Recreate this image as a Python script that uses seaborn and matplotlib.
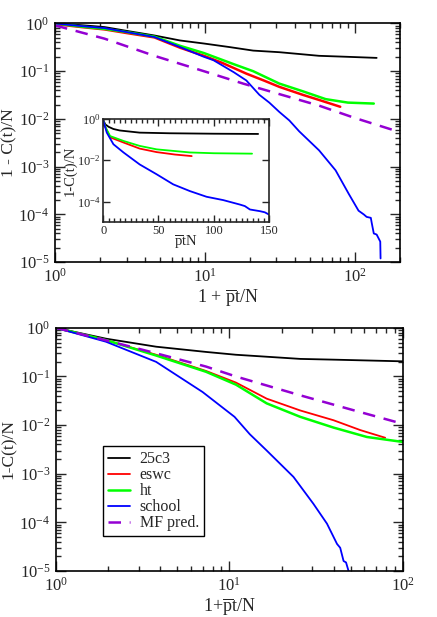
import numpy as np
import matplotlib
matplotlib.use("Agg")
import matplotlib.pyplot as plt
import matplotlib.ticker as mticker
import seaborn as sns

sns.set_style("ticks")
plt.rcParams['font.family'] = ['Liberation Serif', 'DejaVu Serif']
plt.rcParams['mathtext.fontset'] = 'custom'
plt.rcParams['mathtext.rm'] = 'Liberation Serif'
plt.rcParams['mathtext.it'] = 'Liberation Serif:italic'
plt.rcParams['mathtext.bf'] = 'Liberation Serif:bold'

# colours (xmgrace style)
c_black = '#000000'
c_red = '#ff0000'
c_green = '#00ff00'
c_blue = '#0000ff'
c_violet = '#9400d3'

# ---- top panel, main plot (x = 1 + pt/N) ----
top_25c3_x = [1, 1.5, 2.14, 3, 4.6, 6.83, 9.85, 14.6, 21, 31.4, 57.8, 90, 140]
top_25c3_y = [1.0, 0.92, 0.84, 0.70, 0.56, 0.44, 0.38, 0.32, 0.27, 0.25, 0.21, 0.20, 0.19]

top_eswc_x = [1, 1.5, 2.14, 3, 4.6, 6.83, 9.85, 13, 18.9, 25, 31.4, 45, 57.8, 80]
top_eswc_y = [0.97, 0.84, 0.75, 0.63, 0.51, 0.31, 0.21, 0.15, 0.089, 0.063, 0.047, 0.032, 0.025, 0.018]

top_ht_x = [1, 1.5, 2.14, 3, 4.6, 6.83, 9.85, 15.6, 21, 31.4, 45, 64, 90, 134]
top_ht_y = [1.0, 0.86, 0.77, 0.66, 0.53, 0.34, 0.24, 0.14, 0.10, 0.055, 0.038, 0.026, 0.022, 0.021]

top_school_x = [1, 1.5, 2.14, 3, 4.6, 6.83, 9.85, 11.4, 15.6, 18.9, 23.1, 26.9, 31.4, 36.6,
                42.6, 57.8, 74.5, 91.2, 106, 115, 120, 128, 130, 134, 140, 144, 148, 148.7]
top_school_y = [1.0, 0.88, 0.80, 0.66, 0.52, 0.32, 0.20, 0.17, 0.095, 0.064, 0.032, 0.022,
                0.014, 0.0093, 0.0055, 0.0022, 8.4e-4, 2.7e-4, 1.2e-4, 1.0e-4, 8.9e-5, 8.5e-5,
                6.5e-5, 4.0e-5, 3.8e-5, 3.2e-5, 2.7e-5, 1.2e-5]

top_mf_x = [1, 2.14, 4.6, 9.85, 18, 57.8, 100, 200]
top_mf_y = [0.91, 0.48, 0.21, 0.10, 0.055, 0.019, 0.0105, 0.0053]

# ---- inset (linear x = pt/N) ----
ins_25c3_x = [0, 2, 5, 9.3, 15, 33, 60, 100, 140]
ins_25c3_y = [0.9, 0.55, 0.42, 0.33, 0.28, 0.22, 0.205, 0.195, 0.19]

ins_eswc_x = [0, 2, 6.3, 18.4, 33, 48.3, 65, 80]
ins_eswc_y = [0.9, 0.4, 0.13, 0.073, 0.037, 0.025, 0.019, 0.016]

ins_ht_x = [0, 2, 6.3, 18.4, 33, 48.3, 78.4, 100, 134.5]
ins_ht_y = [0.9, 0.42, 0.15, 0.087, 0.05, 0.034, 0.024, 0.022, 0.021]

ins_school_x = [0, 3.3, 9.3, 18.4, 33, 48.3, 63.3, 78.4, 93.4, 108.5, 123.6, 128, 132.6, 141.6, 146, 150]
ins_school_y = [0.9, 0.22, 0.06, 0.024, 0.0063, 0.0021, 6.8e-4, 3.2e-4, 1.7e-4, 1.17e-4,
                7.1e-5, 6.0e-5, 4.1e-5, 3.4e-5, 3.0e-5, 2.3e-5]

# ---- bottom panel (x = 1 + pt/N) ----
bot_25c3_x = [1, 1.94, 3.78, 7.33, 10.9, 16.4, 25.6, 39.8, 100]
bot_25c3_y = [1.0, 0.60, 0.41, 0.32, 0.28, 0.255, 0.23, 0.222, 0.205]

bot_eswc_x = [1, 1.94, 3.78, 7.33, 10.9, 16.4, 25.6, 39.8, 56.8, 79]
bot_eswc_y = [1.0, 0.56, 0.28, 0.13, 0.075, 0.035, 0.020, 0.0126, 0.0079, 0.0055]

bot_ht_x = [1, 1.94, 3.78, 7.33, 10.9, 16.4, 25.6, 39.8, 62, 100]
bot_ht_y = [1.0, 0.56, 0.27, 0.125, 0.068, 0.028, 0.0148, 0.0089, 0.0057, 0.0045]

bot_school_x = [1, 1.94, 3.78, 7.0, 10.7, 13.1, 16.4, 23.4, 30.5, 36.5, 41.7, 43.5, 45.5, 47, 48.6]
bot_school_y = [1.0, 0.52, 0.20, 0.048, 0.0148, 0.0065, 0.003, 8.6e-4, 2.4e-4, 9.4e-5,
                3.6e-5, 3.0e-5, 1.6e-5, 1.5e-5, 1.0e-5]

bot_mf_x = [1, 2, 3.78, 7.33, 10.9, 25.6, 50, 100]
bot_mf_y = [1.0, 0.54, 0.30, 0.16, 0.10, 0.041, 0.021, 0.0106]

labels = ['25c3', 'eswc', 'ht', 'school', 'MF pred.']
lw = 1.3

fig = plt.figure(figsize=(4.37, 6.17), dpi=100)
ax1 = fig.add_axes([0.126, 0.575, 0.789, 0.387])
ax2 = fig.add_axes([0.128, 0.0746, 0.794, 0.394])
axin = fig.add_axes([0.236, 0.640, 0.380, 0.167])


def style_log(ax, fs=12):
    ax.set_xscale('log')
    ax.set_yscale('log')
    ax.xaxis.set_major_locator(mticker.LogLocator(base=10))
    ax.xaxis.set_minor_locator(mticker.LogLocator(base=10, subs=np.arange(2, 10)))
    ax.yaxis.set_major_locator(mticker.LogLocator(base=10))
    ax.yaxis.set_minor_locator(mticker.LogLocator(base=10, subs=np.arange(2, 10)))
    ax.xaxis.set_minor_formatter(mticker.NullFormatter())
    ax.yaxis.set_minor_formatter(mticker.NullFormatter())
    ax.tick_params(which='both', direction='in', top=True, right=True, labelsize=fs, width=1)
    ax.tick_params(which='major', length=7, pad=4)
    ax.tick_params(which='minor', length=3.5)
    for s in ax.spines.values():
        s.set_linewidth(1.2)
        s.set_color('black')


# top main
sns.lineplot(x=top_25c3_x, y=top_25c3_y, ax=ax1, color=c_black, lw=lw)
sns.lineplot(x=top_eswc_x, y=top_eswc_y, ax=ax1, color=c_red, lw=lw + 0.5)
sns.lineplot(x=top_ht_x, y=top_ht_y, ax=ax1, color=c_green, lw=lw + 0.5)
sns.lineplot(x=top_school_x, y=top_school_y, ax=ax1, color=c_blue, lw=lw, sort=False)
ax1.plot(top_mf_x, top_mf_y, color=c_violet, lw=lw + 0.5, ls=(0, (5, 3.5)))
style_log(ax1)
ax1.set_xlim(1, 200)
ax1.set_ylim(1e-5, 1)
ax1.set_xlabel(r'1 + $\overline{\mathrm{p}}$t/N', fontsize=13, labelpad=1)
ax1.set_ylabel('1 - C(t)/N', fontsize=12.5)
ax1.yaxis.set_label_coords(-0.11, 0.5)

# inset
sns.lineplot(x=ins_25c3_x, y=ins_25c3_y, ax=axin, color=c_black, lw=lw)
sns.lineplot(x=ins_eswc_x, y=ins_eswc_y, ax=axin, color=c_red, lw=lw)
sns.lineplot(x=ins_ht_x, y=ins_ht_y, ax=axin, color=c_green, lw=lw)
sns.lineplot(x=ins_school_x, y=ins_school_y, ax=axin, color=c_blue, lw=lw)
axin.set_yscale('log')
axin.set_xlim(0, 150)
axin.set_ylim(1e-5, 1)
axin.xaxis.set_major_locator(mticker.MultipleLocator(50))
axin.xaxis.set_minor_locator(mticker.MultipleLocator(5))
axin.yaxis.set_major_locator(mticker.LogLocator(base=100))
axin.yaxis.set_minor_locator(mticker.LogLocator(base=10, subs=np.arange(1, 10)))
axin.yaxis.set_minor_formatter(mticker.NullFormatter())
axin.tick_params(which='both', direction='in', top=True, right=True, labelsize=9, width=1)
axin.tick_params(which='major', length=5, pad=2)
axin.tick_params(which='minor', length=3)
for s in axin.spines.values():
    s.set_linewidth(1.2)
axin.set_xlabel(r'$\overline{\mathrm{p}}$tN', fontsize=10.5, labelpad=-2)
axin.set_ylabel('1-C(t)/N', fontsize=10.5)
axin.yaxis.set_label_coords(-0.16, 0.5)

# bottom
sns.lineplot(x=bot_25c3_x, y=bot_25c3_y, ax=ax2, color=c_black, lw=lw, label=labels[0])
sns.lineplot(x=bot_eswc_x, y=bot_eswc_y, ax=ax2, color=c_red, lw=lw, label=labels[1])
sns.lineplot(x=bot_ht_x, y=bot_ht_y, ax=ax2, color=c_green, lw=lw + 0.5, label=labels[2])
sns.lineplot(x=bot_school_x, y=bot_school_y, ax=ax2, color=c_blue, lw=lw, label=labels[3])
ax2.plot(bot_mf_x, bot_mf_y, color=c_violet, lw=lw + 0.5, ls=(0, (5, 3.5)), label=labels[4])
style_log(ax2)
ax2.set_xlim(1, 100)
ax2.set_ylim(1e-5, 1)
ax2.set_xlabel(r'1+$\overline{\mathrm{p}}$t/N', fontsize=13, labelpad=1)
ax2.set_ylabel('1-C(t)/N', fontsize=12.5)
ax2.yaxis.set_label_coords(-0.112, 0.5)
leg = ax2.legend(loc='lower left', bbox_to_anchor=(0.135, 0.144), fontsize=11.5,
                 frameon=True, fancybox=False, edgecolor='black', framealpha=1,
                 handlelength=1.4, handletextpad=0.6, labelspacing=0.0, borderpad=0.3,
                 borderaxespad=0)
leg.get_frame().set_linewidth(1.0)

fig.savefig('out.png', dpi=100)
